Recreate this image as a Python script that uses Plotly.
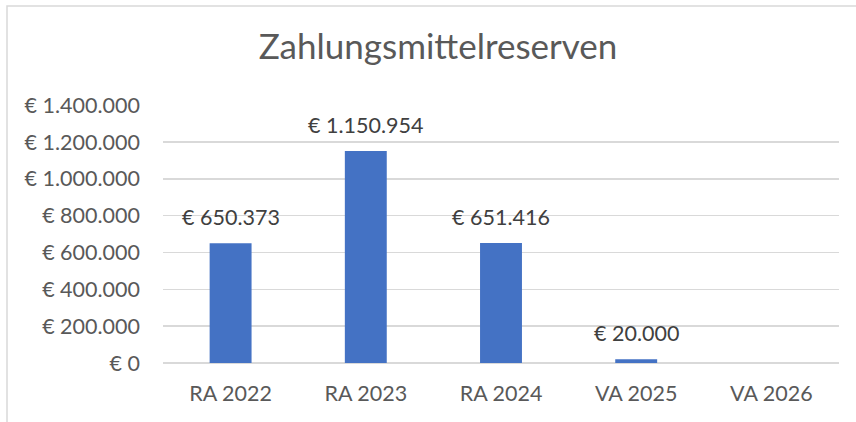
import plotly.graph_objects as go

categories = ["RA 2022", "RA 2023", "RA 2024", "VA 2025", "VA 2026"]
values = [650373, 1150954, 651416, 20000, None]
y_ticks = [0, 200000, 400000, 600000, 800000, 1000000, 1200000, 1400000]
title_text = "Zahlungsmittelreserven"

FONT = "Lato, 'Open Sans', sans-serif"

def euro(v):
    return "€ " + f"{v:,.0f}".replace(",", ".")

fig = go.Figure()
fig.add_trace(go.Bar(
    x=categories, y=values,
    marker=dict(color="#4472C4", line=dict(width=0)),
    hoverinfo="skip",
))

for c, v in zip(categories, values):
    if v is None:
        continue
    fig.add_annotation(
        x=c, y=v, xref="x", yref="y", text=euro(v), showarrow=False,
        yanchor="middle", yshift=26,
        font=dict(family=FONT, size=21.5, color="#404040"),
    )

L, R, T, B = 163, 17, 105, 59
W, H = 856, 422
pw, ph = W - L - R, H - T - B

# chart-area border (Excel-style), partially cropped at right/bottom
fig.add_shape(
    type="rect", xref="paper", yref="paper",
    x0=(7 - L) / pw, x1=(870 - L) / pw,
    y0=(H - B - 440) / ph, y1=(H - B - 6) / ph,
    line=dict(color="#d9d9d9", width=1.5), fillcolor="rgba(0,0,0,0)",
    layer="below",
)

fig.update_layout(
    width=W, height=H,
    margin=dict(l=L, r=R, t=T, b=B, pad=0),
    paper_bgcolor="white", plot_bgcolor="white",
    separators=",.",
    showlegend=False,
    bargap=0.69,
    title=dict(
        text=title_text, x=438 / W, xanchor="center",
        y=1 - 47 / H, yanchor="middle",
        font=dict(family=FONT, size=35, color="#595959"),
    ),
    font=dict(family=FONT, size=21.5, color="#595959"),
    xaxis=dict(
        showgrid=False, showline=False, zeroline=False, ticks="",
        tickfont=dict(family=FONT, size=21.5, color="#595959"),
        ticklabelstandoff=15,
    ),
    yaxis=dict(
        range=[0, 1400000 * 1.0005],
        tickvals=y_ticks,
        ticktext=[euro(v) for v in y_ticks],
        showgrid=True, gridcolor="#d9d9d9", gridwidth=1.5,
        zeroline=True, zerolinecolor="#d9d9d9", zerolinewidth=1.5,
        showline=False, ticks="",
        tickfont=dict(family=FONT, size=21.5, color="#595959"),
        ticklabelstandoff=22,
    ),
)

fig.write_html(
    "out.html",
    config={"displayModeBar": False, "staticPlot": True},
    post_script=(
        "document.body.style.margin='0';document.body.style.padding='0';"
        "document.body.style.overflow='hidden';"
        "document.documentElement.style.overflow='hidden';"
    ),
)
